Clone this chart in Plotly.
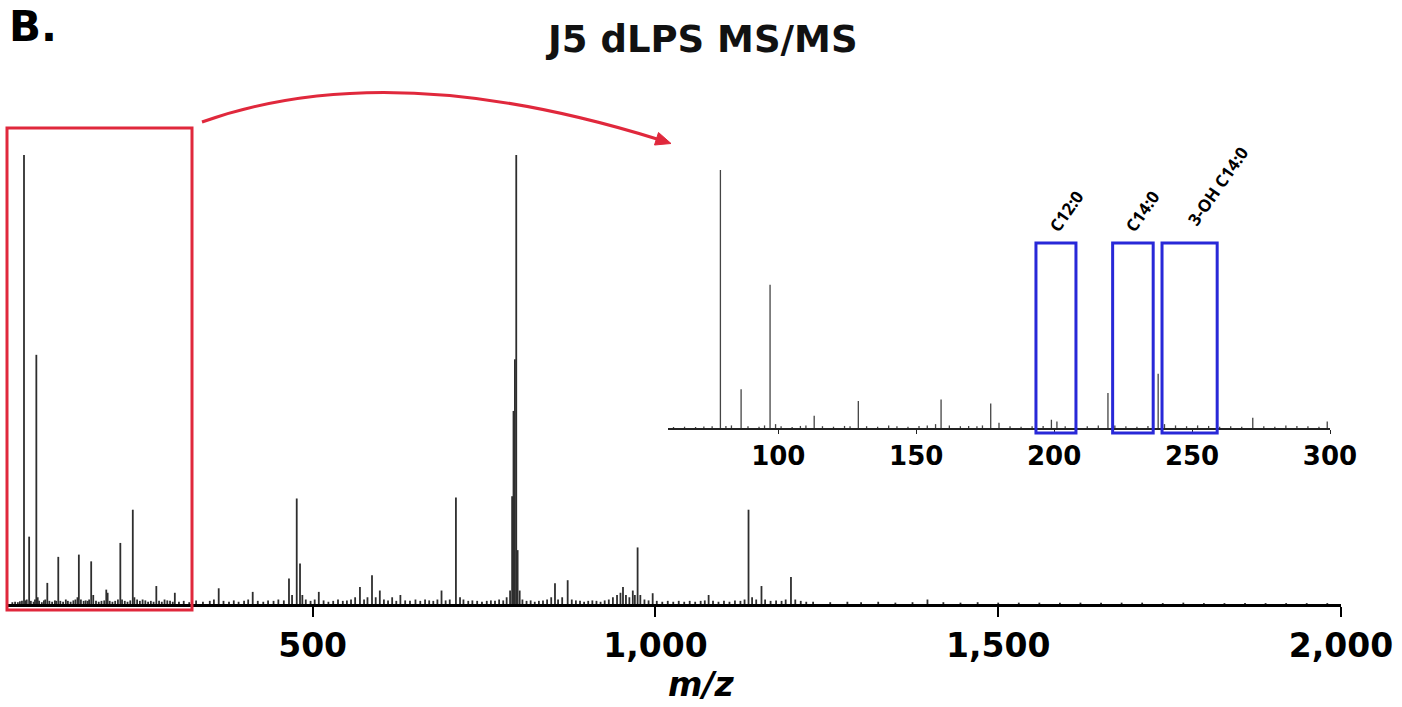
import plotly.graph_objects as go

W, H = 1402, 707

# ---------------- data: MS/MS spectrum (m/z, relative intensity %) ----------------
mz_values = [
    62, 66, 70, 73, 76, 79, 81, 83, 86.5, 89, 93, 95, 97, 99, 101, 105, 108, 110, 113, 116,
    120, 124, 126, 129, 132, 136, 140, 143, 147, 151, 154, 157, 159, 162, 166, 169, 172, 174,
    177, 180, 184, 188, 192, 196, 199, 201, 204, 208, 212, 216, 219.5, 222, 226, 230, 234,
    237.7, 240, 244, 248, 252, 256, 260, 264, 268, 272, 276, 280, 284, 288, 292, 296, 299,
    305, 312, 320, 330, 340, 350, 356, 363, 370, 378, 385, 392, 400, 406, 412.6, 420, 428,
    435, 443, 450, 458, 465.5, 470, 476.8, 481.6, 485, 490, 497, 503, 509, 516, 523, 530,
    537, 544, 550, 556, 562, 569, 575, 580, 586.6, 592, 598, 604, 610, 616, 622, 628, 635,
    642, 650, 657, 664, 670, 676, 682, 688, 694, 700, 709, 715, 720, 727, 733, 740, 747,
    754, 760, 766, 772, 778, 783, 788, 791, 793, 795, 797, 799, 802, 806, 812, 818, 824,
    830, 836, 842, 848, 853.5, 858, 864, 872, 878, 884, 890, 896, 902, 908, 914, 920, 926,
    932, 938, 944, 949, 952.7, 957, 962, 967, 970, 974, 978, 984, 990, 996, 1002, 1010,
    1018, 1026, 1034, 1042, 1050, 1058, 1066, 1072, 1077.6, 1084, 1092, 1100, 1108, 1116,
    1124, 1130, 1135.8, 1141, 1147, 1154.7, 1160, 1168, 1176, 1184, 1190, 1197.7, 1204,
    1212, 1220, 1230, 1255, 1280, 1300, 1325, 1350, 1375, 1396.8, 1420, 1445, 1470, 1500,
    1530, 1560, 1590, 1620, 1650, 1680, 1710, 1740, 1770, 1800, 1830, 1860, 1890, 1920,
    1950, 1980,
]
intensities = [
    0.4, 0.5, 0.4, 0.6, 0.7, 100, 0.8, 1.0, 15, 0.7, 0.5, 1.0, 55.5, 1.5, 0.7, 0.4, 0.8, 1.0, 4.7, 0.7,
    0.5, 0.8, 0.7, 10.5, 0.7, 0.5, 1.0, 0.7, 0.5, 0.8, 1.0, 1.5, 11, 1.0, 0.7, 0.8, 0.7, 1.0,
    9.5, 2.0, 0.7, 0.5, 0.7, 0.8, 3.2, 2.5, 0.7, 0.5, 0.7, 1.0, 13.6, 1.0, 0.7, 0.5, 0.8,
    21, 1.5, 1.0, 0.7, 1.0, 0.8, 0.5, 0.7, 0.5, 4.0, 0.7, 0.5, 1.0, 0.8, 0.7, 0.5, 2.5,
    0.5, 0.7, 0.4, 0.8, 0.5, 0.7, 1.0, 3.5, 0.7, 0.5, 0.8, 0.5, 0.7, 1.0, 2.7, 0.7, 0.5,
    0.8, 0.7, 1.0, 0.8, 5.7, 2.0, 23.5, 9.0, 2.0, 1.0, 0.7, 1.0, 2.7, 0.8, 0.5, 0.7,
    1.0, 0.7, 0.8, 1.0, 1.5, 3.8, 1.0, 1.5, 6.4, 1.5, 3.0, 1.0, 0.8, 1.5, 0.7, 2.0, 0.8,
    0.7, 1.0, 0.7, 1.0, 0.8, 0.7, 1.0, 3.0, 0.8, 1.0, 23.7, 1.5, 1.0, 0.7, 0.8, 0.7, 0.5,
    0.7, 0.8, 0.7, 1.0, 0.8, 1.5, 3.0, 24, 43, 54.5, 100, 12, 3.0, 1.0, 0.7, 0.8, 0.5,
    0.7, 0.8, 1.0, 1.5, 4.6, 1.0, 1.5, 5.3, 1.0, 0.8, 0.7, 0.5, 0.7, 0.8, 0.7, 0.5, 0.8,
    1.0, 1.5, 2.0, 2.5, 3.8, 2.0, 1.5, 3.0, 2.0, 12.6, 2.0, 1.0, 0.8, 2.4, 0.7, 0.5,
    0.7, 0.5, 0.7, 0.5, 0.7, 0.5, 0.7, 0.8, 2.0, 0.7, 0.5, 0.7, 0.5, 0.8,
    0.7, 1.0, 21, 1.5, 1.0, 4.0, 1.0, 0.7, 0.8, 0.7, 1.0, 6.0, 1.0,
    0.7, 0.5, 0.5, 0.4, 0.5, 0.4, 0.5, 0.3, 0.4, 1.0, 0.4, 0.3, 0.4, 0.3,
    0.3, 0.3, 0.3, 0.3, 0.3, 0.3, 0.3, 0.2, 0.3, 0.2, 0.2, 0.2, 0.2, 0.2,
    0.2, 0.2,
]

main_ticks = [500, 1000, 1500, 2000]
main_ticktext = ["500", "1,000", "1,500", "2,000"]
inset_ticks = [100, 150, 200, 250, 300]

# fatty-acid marker ranges (m/z) in the inset
fa_labels = ["C12:0", "C14:0", "3-OH C14:0"]
fa_ranges = [(193.4, 207.9), (221.2, 235.9), (239.1, 259.1)]
fa_label_mz = [204.6, 232.2, 259.1]

title_text = "J5 dLPS MS/MS"
panel_label = "B."


def sticks(xs, ys):
    sx, sy = [], []
    for x, y in zip(xs, ys):
        sx += [x, x, None]
        sy += [0, y, None]
    return sx, sy


def px(x, y):
    return x / W, 1 - y / H


mx, my = sticks(mz_values, intensities)
ins = [(x, y) for x, y in zip(mz_values, intensities) if 60 <= x <= 300]
ix, iy = sticks([a for a, _ in ins], [b for _, b in ins])

fig = go.Figure()
fig.add_trace(go.Scatter(x=mx, y=my, mode="lines", line=dict(color="#2e2e2e", width=1.8),
                         xaxis="x", yaxis="y", hoverinfo="skip", showlegend=False))
fig.add_trace(go.Scatter(x=ix, y=iy, mode="lines", line=dict(color="#444444", width=1.3),
                         xaxis="x2", yaxis="y2", hoverinfo="skip", showlegend=False))

FONT = "DejaVu Sans"

fig.update_layout(
    width=W, height=H,
    margin=dict(l=0, r=0, t=0, b=0, autoexpand=False),
    paper_bgcolor="white", plot_bgcolor="rgba(0,0,0,0)",
    showlegend=False,
    xaxis=dict(domain=[7 / W, 1341 / W], range=[54.2, 2000], showgrid=False, zeroline=False,
               automargin=False,
               showline=True, linecolor="black", linewidth=3,
               ticks="outside", ticklen=10, tickwidth=1.5, tickcolor="black",
               tickvals=main_ticks, ticktext=main_ticktext,
               tickfont=dict(family=FONT, size=33, color="black", weight="bold")),
    yaxis=dict(domain=[1 - 604 / H, 1 - 120 / H], range=[0, 107.8], visible=False,
               automargin=False),
    xaxis2=dict(domain=[668 / W, 1330 / W], range=[60, 300], anchor="y2",
                showgrid=False, zeroline=False, automargin=False,
                showline=True, linecolor="#222", linewidth=1.5,
                ticks="outside", ticklen=4, tickwidth=1, tickcolor="#222",
                tickvals=inset_ticks,
                tickfont=dict(family=FONT, size=26, color="black", weight="bold")),
    yaxis2=dict(domain=[1 - 428 / H, 1 - 150 / H], range=[0, 107.75], visible=False,
                anchor="x2", automargin=False),
)

shapes = []
# red highlight box (paper coords)
x0, y0 = px(7, 610)
x1, y1 = px(192, 128)
shapes.append(dict(type="rect", xref="paper", yref="paper", x0=x0, y0=y0, x1=x1, y1=y1,
                   line=dict(color="#e0283c", width=3), fillcolor="rgba(0,0,0,0)"))
# curved arrow
p0, pc, p2 = px(202, 122), px(389, 55.5), px(657, 139)
shapes.append(dict(type="path", xref="paper", yref="paper",
                   path=f"M {p0[0]},{p0[1]} Q {pc[0]},{pc[1]} {p2[0]},{p2[1]}",
                   line=dict(color="#e0283c", width=3)))
t, b1, b2 = px(671, 143.5), px(654.5, 145), px(658.5, 132.5)
shapes.append(dict(type="path", xref="paper", yref="paper",
                   path=f"M {t[0]},{t[1]} L {b1[0]},{b1[1]} L {b2[0]},{b2[1]} Z",
                   fillcolor="#e0283c", line=dict(color="#e0283c", width=1)))
# blue fatty-acid boxes on the inset
for lo, hi in fa_ranges:
    shapes.append(dict(type="rect", xref="x2", yref="paper", x0=lo, x1=hi,
                       y0=1 - 433 / H, y1=1 - 243 / H,
                       line=dict(color="#2828d8", width=3), fillcolor="rgba(0,0,0,0)"))
fig.update_layout(shapes=shapes)

ann = []
ann.append(dict(text=f"<b>{panel_label}</b>", xref="paper", yref="paper", x=7 / W, y=1 - 27 / H,
                xanchor="left", yanchor="middle", showarrow=False,
                font=dict(family=FONT, size=42, color="black")))
ann.append(dict(text=f"<b>{title_text}</b>", xref="paper", yref="paper", x=701 / W, y=1 - 40 / H,
                xanchor="center", yanchor="middle", showarrow=False,
                font=dict(family=FONT, size=37, color="#111")))
ann.append(dict(text="<b><i>m/z</i></b>", xref="paper", yref="paper", x=701 / W, y=1 - 684 / H,
                xanchor="center", yanchor="middle", showarrow=False,
                font=dict(family=FONT, size=33, color="black")))
label_y = [211, 211, 186]
for lab, xm, yy in zip(fa_labels, fa_label_mz, label_y):
    ann.append(dict(text=f"<b>{lab}</b>", xref="x2", yref="paper", x=xm, y=1 - yy / H,
                    xanchor="center", yanchor="middle", showarrow=False, textangle=-55,
                    font=dict(family="Open Sans", size=17, color="black")))
fig.update_layout(annotations=ann)

fig.write_html("out.html")
